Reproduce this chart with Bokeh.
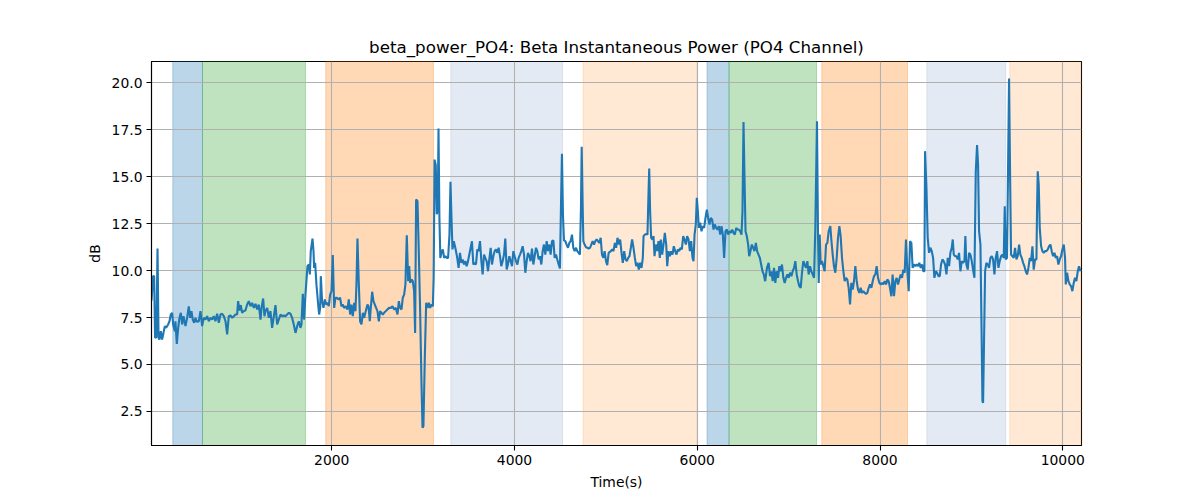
from bokeh.plotting import figure
from bokeh.models import Range1d, BoxAnnotation, FixedTicker, PrintfTickFormatter
from bokeh.embed import file_html
from bokeh.resources import INLINE

# ---- data ----
time_s = [
    27, 45, 56, 66, 80, 93, 104, 114, 129, 143, 158, 173, 187, 209, 224, 238, 253, 264, 282, 289,
    304, 319, 333, 348, 362, 377, 399, 417, 435, 450, 464, 479, 494, 508, 523, 545, 563, 581, 599, 618,
    636, 654, 672, 691, 709, 727, 745, 764, 782, 800, 818, 837, 855, 873, 891, 910, 928, 946, 964, 975,
    990, 1004, 1019, 1037, 1055, 1074, 1092, 1110, 1128, 1147, 1165, 1183, 1201, 1220, 1231, 1249, 1263, 1274, 1293, 1311,
    1329, 1347, 1366, 1384, 1402, 1420, 1439, 1457, 1475, 1493, 1511, 1530, 1548, 1566, 1584, 1603, 1621, 1639, 1657, 1668,
    1683, 1697, 1712,
    1734, 1749, 1760, 1770, 1789, 1800, 1807, 1818, 1832, 1851, 1862, 1873, 1880, 1894, 1909, 1924, 1938, 1953, 1967, 1982,
    1997, 2011, 2026, 2040, 2055, 2070, 2091, 2106, 2121, 2135, 2153, 2172, 2186, 2201, 2215, 2230, 2245, 2259, 2270, 2281,
    2296, 2310, 2325, 2340, 2354, 2372, 2391, 2402, 2416, 2427, 2442, 2456, 2471, 2485, 2500, 2515, 2529, 2544, 2558, 2573,
    2591, 2609, 2628, 2646, 2664, 2682, 2701, 2719, 2734, 2748, 2763, 2777, 2792, 2806, 2821, 2836, 2847, 2858, 2872, 2887,
    2901, 2912, 2923, 2938, 2952, 2967, 2982, 2993, 3003, 3018, 3033, 3047, 3062, 3076, 3091, 3106, 3115, 3125, 3138, 3149,
    3160, 3168, 3178, 3188, 3200, 3215, 3230, 3244, 3259, 3273, 3288, 3299, 3310, 3321, 3335,
    3352, 3370, 3388, 3403, 3418, 3432, 3447, 3461, 3476, 3491, 3505, 3520, 3534, 3549, 3564, 3578, 3593, 3607, 3622, 3637,
    3651, 3666, 3680, 3695, 3710, 3724, 3739, 3753, 3768, 3782, 3797, 3812, 3826, 3841, 3855, 3870, 3885, 3899, 3914, 3928,
    3943, 3958, 3972, 3987, 4001, 4016, 4031, 4045, 4060, 4074, 4089, 4104, 4118, 4133, 4147, 4162, 4176, 4191, 4206, 4220,
    4235, 4249, 4264, 4279, 4293, 4308, 4322, 4337, 4352, 4366, 4381, 4395, 4410, 4425, 4439, 4454, 4468, 4483, 4497, 4508,
    4519, 4530, 4541, 4556, 4570, 4585, 4600, 4614, 4629, 4643, 4658, 4673, 4687, 4702, 4716, 4727, 4735, 4746, 4753, 4767,
    4782, 4797, 4811, 4826, 4840, 4855, 4870, 4884, 4899, 4913, 4928, 4943, 4957, 4972, 4986, 5001, 5015, 5030,
    5054, 5069, 5083, 5098, 5112, 5127, 5142, 5156, 5171, 5185, 5200, 5215, 5229, 5244, 5258, 5273, 5287, 5302, 5317, 5331,
    5346, 5360, 5375, 5390, 5404, 5412, 5426, 5441, 5455, 5466, 5474, 5484, 5495, 5510, 5521, 5532, 5546, 5561, 5576, 5590,
    5601, 5616, 5630, 5645, 5660, 5671, 5685, 5700, 5714, 5729, 5743, 5758, 5773, 5787, 5802, 5816, 5831, 5846, 5860, 5875,
    5889, 5904, 5919, 5933, 5948, 5959, 5970, 5984, 5995, 6006, 6017, 6032, 6046, 6061, 6075, 6090, 6105, 6119, 6134, 6148,
    6163, 6178, 6192, 6207, 6221, 6236, 6251, 6265, 6280, 6294, 6309, 6324, 6338, 6353, 6367, 6382, 6396, 6411, 6426, 6440,
    6455, 6469, 6484, 6495, 6506, 6517, 6528, 6542, 6557, 6568, 6582, 6597, 6612, 6626, 6641, 6655, 6670, 6685, 6699, 6714,
    6728, 6743,
    6763, 6781, 6796, 6811, 6825, 6840, 6854, 6869, 6884, 6898, 6913, 6927, 6942, 6957, 6971, 6986, 7000, 7015, 7030, 7044,
    7059, 7073, 7088, 7103, 7117, 7132, 7146, 7161, 7175, 7190, 7205, 7219, 7234, 7248, 7263, 7278, 7292, 7310, 7321, 7329,
    7340, 7351, 7365, 7380, 7394, 7409, 7424, 7438, 7456, 7467, 7482, 7496, 7511, 7526, 7540, 7555, 7569, 7584, 7599, 7613,
    7628, 7642, 7657, 7672, 7686, 7701, 7715, 7730, 7745, 7759, 7774, 7788, 7803, 7818, 7832, 7847, 7861, 7876, 7890, 7905,
    7920, 7934, 7949, 7963, 7978, 7993, 8007, 8022, 8036, 8051, 8066, 8080, 8095, 8109, 8124, 8138, 8153, 8168, 8182, 8197,
    8211, 8226, 8241, 8255, 8270, 8284, 8299, 8314, 8328, 8343, 8357, 8372, 8387, 8401, 8416, 8430, 8445, 8460, 8474,
    8486, 8493, 8508, 8522, 8537, 8551, 8566, 8581, 8595, 8610, 8624, 8639, 8654, 8668, 8683, 8697, 8712, 8727, 8741, 8756,
    8770, 8785, 8796, 8807, 8821, 8836, 8851, 8865, 8880, 8894, 8909, 8924, 8934, 8945, 8960, 8975, 8989, 9004, 9018, 9033,
    9048, 9062, 9073, 9084, 9099, 9110, 9121, 9128, 9139, 9150, 9164, 9179, 9193, 9208, 9223, 9237, 9252, 9266, 9281, 9296,
    9310, 9325, 9339, 9354, 9365, 9376, 9390, 9401, 9412, 9423, 9434, 9449, 9463, 9478, 9493, 9507, 9522, 9536, 9551, 9566,
    9580, 9595, 9609, 9624, 9639, 9653, 9668, 9682, 9697, 9712, 9719, 9726, 9737, 9748, 9763, 9777, 9792, 9806, 9821, 9836,
    9850, 9865, 9879, 9894, 9909, 9923, 9938, 9952, 9967, 9981, 9996, 10011, 10025, 10033, 10047, 10062, 10076, 10091, 10105, 10120,
    10134, 10149, 10164, 10178, 10193,
]

power_db = [
    8.40, 9.70, 9.70, 6.42, 6.45, 11.17, 6.42, 6.33, 6.77, 6.33, 6.68, 7.04, 6.95, 7.13, 7.30, 7.66, 7.75, 7.13, 6.77, 7.30,
    6.10, 6.95, 7.48, 7.75, 7.13, 7.57, 7.04, 7.48, 8.09, 7.48, 7.84, 7.39, 7.22, 7.48, 7.27, 7.30, 7.84, 7.04, 7.48, 7.39,
    7.57, 7.30, 7.48, 7.39, 7.57, 7.30, 7.70, 7.22, 7.66, 7.70, 7.57, 7.30, 6.60, 7.57, 7.61, 7.48, 7.57, 7.66, 7.66, 8.37,
    7.87, 8.16, 7.75, 7.84, 7.87, 8.19, 8.37, 8.10, 8.28, 8.01, 8.23, 7.93, 8.19, 7.39, 8.01, 8.51, 7.57, 7.84, 8.01, 7.48,
    7.84, 6.95, 7.57, 8.16, 7.13, 7.39, 7.66, 7.57, 7.61, 7.57, 7.66, 7.75, 7.70, 7.48, 7.13, 6.68, 7.04, 7.30, 6.95, 7.13,
    8.76, 7.39, 8.72,
    10.23, 10.32, 9.79, 11.03, 11.70, 11.03, 10.14, 10.41, 9.26, 8.19, 7.66, 8.01, 9.70, 8.37, 8.01, 8.46, 8.19, 8.28, 8.10, 8.72,
    8.90, 10.82, 8.01, 8.55, 8.55, 8.46, 8.55, 8.10, 8.19, 8.01, 8.10, 7.93, 8.46, 7.66, 8.19, 7.57, 8.28, 7.84, 9.26, 11.70,
    9.26, 7.30, 7.13, 7.75, 7.48, 7.84, 8.19, 8.10, 7.30, 8.01, 8.87, 8.37, 8.19, 8.01, 7.84, 7.30, 7.84, 7.75, 7.66, 7.75,
    7.84, 7.93, 8.01, 8.01, 8.10, 7.93, 8.01, 7.66, 8.37, 8.01, 7.93, 8.55, 8.72, 9.26, 11.88, 9.43, 10.23, 9.34, 9.52, 9.43,
    8.90, 6.68, 13.78, 13.69, 11.03, 7.84, 3.94, 1.63, 1.72, 5.35, 8.28, 8.01, 8.28, 8.01, 8.19, 8.10, 9.61, 15.90, 15.60, 13.00,
    13.20, 17.55, 12.80, 10.67, 10.94, 11.12, 10.67, 10.76, 10.67, 10.67, 11.91, 14.72, 12.80, 11.12, 11.56,
    11.21, 10.76, 10.14, 10.94, 10.41, 10.59, 10.32, 10.50, 10.23, 10.50, 10.85, 11.21, 11.56, 10.32, 10.41, 10.32, 11.12, 11.03, 11.56, 10.50,
    9.79, 10.85, 10.67, 10.50, 9.96, 10.59, 11.21, 10.32, 10.76, 11.03, 11.12, 10.94, 11.21, 10.76, 10.23, 10.50, 10.85, 11.70, 10.05, 10.32,
    10.76, 10.50, 10.23, 11.03, 10.76, 10.50, 10.32, 10.67, 10.85, 11.03, 11.29, 10.85, 9.88, 10.50, 10.94, 10.76, 10.50, 11.17, 10.32, 10.76,
    11.21, 11.03, 10.59, 10.76, 10.32, 11.03, 11.38, 10.85, 11.56, 11.03, 11.38, 10.85, 11.56, 11.60, 10.67, 10.85, 10.59, 10.32, 10.11, 13.33,
    16.21, 12.98, 11.60, 11.56, 11.38, 11.21, 11.47, 11.56, 11.91, 11.21, 11.03, 11.21, 11.03, 10.94, 10.85, 13.33, 16.58, 13.33, 11.56, 11.38,
    11.24, 11.21, 11.17, 11.21, 11.38, 11.56, 11.38, 11.56, 11.65, 11.56, 11.47, 11.74, 10.85, 10.67, 11.03, 10.50, 10.28, 10.94,
    11.03, 11.12, 11.03, 11.47, 11.21, 11.74, 11.38, 11.65, 10.94, 10.41, 11.03, 10.59, 10.50, 10.67, 10.76, 11.21, 11.65, 11.21, 10.67, 10.23,
    10.41, 10.05, 10.41, 10.14, 10.67, 11.83, 11.91, 11.95, 11.91, 14.04, 15.43, 13.16, 11.74, 11.65, 11.83, 10.76, 11.38, 11.03, 11.56, 10.67,
    11.65, 10.85, 11.38, 12.00, 11.38, 10.23, 11.03, 10.76, 11.03, 10.85, 11.29, 11.03, 10.85, 11.12, 11.03, 11.21, 11.12, 11.83, 11.65, 11.38,
    11.83, 11.65, 11.03, 11.56, 10.67, 10.50, 11.91, 12.45, 13.87, 13.16, 12.27, 12.54, 12.09, 12.36, 12.27, 12.80, 13.24, 12.80, 12.45, 12.80,
    12.71, 12.18, 12.45, 12.27, 12.18, 12.36, 11.91, 12.36, 11.91, 10.67, 12.09, 12.18, 11.91, 12.09, 12.00, 12.18, 12.00, 11.91, 12.27, 12.18,
    12.18, 12.09, 11.91, 13.16, 17.90, 14.93, 12.09, 11.83, 11.38, 10.76, 11.03, 11.38, 11.21, 11.03, 11.47, 11.03, 10.85, 10.67, 10.32, 9.96,
    9.79, 9.43,
    10.14, 10.41, 9.70, 9.96, 9.43, 10.14, 9.34, 9.96, 9.61, 10.23, 9.96, 10.32, 9.61, 9.34, 9.61, 9.79, 9.61, 9.88, 9.70, 9.96,
    10.14, 10.50, 9.79, 9.43, 9.17, 9.08, 9.88, 10.50, 10.32, 10.14, 10.50, 9.79, 10.23, 9.96, 9.79, 9.61, 12.27, 17.94, 12.09, 9.34,
    11.91, 10.32, 10.50, 10.23, 9.96, 11.38, 11.47, 12.09, 12.36, 11.65, 10.85, 10.23, 9.88, 10.67, 11.74, 12.36, 11.83, 10.67, 9.96, 9.43,
    9.61, 9.52, 9.08, 8.19, 9.34, 8.99, 9.43, 10.23, 9.43, 8.99, 8.81, 9.08, 8.81, 8.90, 8.81, 8.76, 8.81, 9.08, 9.26, 9.08,
    9.43, 9.70, 9.79, 10.23, 9.61, 9.34, 9.26, 9.34, 9.26, 9.43, 9.26, 9.52, 9.43, 9.08, 8.63, 9.79, 8.63, 9.43, 9.61, 9.26,
    9.52, 9.79, 9.61, 10.05, 9.88, 11.65, 9.96, 8.90, 11.56, 11.47, 10.14, 10.32, 10.23, 10.32, 10.23, 10.41, 10.14, 10.32, 9.96,
    9.96, 16.35, 14.40, 11.74, 10.94, 11.21, 11.03, 10.67, 9.61, 9.96, 9.88, 9.70, 9.70, 10.32, 10.59, 10.50, 10.32, 9.79, 10.67, 10.23,
    10.94, 11.21, 11.65, 10.85, 10.76, 10.76, 10.59, 10.94, 9.96, 10.50, 10.41, 10.50, 11.83, 10.32, 10.05, 10.94, 10.85, 10.50, 10.05, 9.61,
    15.28, 16.67, 15.64, 12.09, 11.38, 7.30, 3.05, 2.96, 6.42, 9.96, 10.41, 10.32, 10.14, 10.67, 10.76, 10.59, 9.79, 10.67, 11.03, 10.14,
    10.50, 10.76, 10.85, 10.67, 13.42, 10.59, 10.67, 15.28, 20.21, 15.28, 10.85, 10.76, 10.67, 11.21, 10.59, 10.76, 11.38, 10.85, 10.67, 10.41,
    10.23, 9.96, 9.79, 10.14, 10.67, 10.50, 11.29, 10.05, 10.59, 10.59, 13.42, 15.28, 14.57, 12.27, 11.29, 11.03, 10.94, 11.03, 11.03, 11.12,
    11.29, 11.38, 11.03, 10.76, 10.94, 10.67, 10.76, 10.32, 10.59, 10.76, 11.12, 11.38, 10.67, 9.26, 9.88, 9.43, 9.26, 9.17, 8.90, 9.34,
    9.61, 9.43, 9.96, 10.23, 9.96,
]

# shaded intervals (seconds) and their kind
region_start = [260, 585, 1934, 3303, 4750, 6107, 6348, 7363, 8512, 9420]
region_end = [585, 1712, 3113, 4525, 5998, 6348, 7305, 8301, 9376, 10205]
region_kind = ["blue", "green", "orange", "light_blue", "light_orange",
               "blue", "green", "orange", "light_blue", "light_orange"]

x_ticks = [2000, 4000, 6000, 8000, 10000]
y_ticks = [2.5, 5.0, 7.5, 10.0, 12.5, 15.0, 17.5, 20.0]
x_limits = (27, 10205)
y_limits = (0.69, 21.12)

title_text = "beta_power_PO4: Beta Instantaneous Power (PO4 Channel)"
x_label = "Time(s)"
y_label = "dB"

# ---- styles ----
kind_style = {
    "blue": ("#1f77b4", 0.30),
    "green": ("#2ca02c", 0.30),
    "orange": ("#ff7f0e", 0.30),
    "light_blue": ("#4c72b0", 0.15),
    "light_orange": ("#ff7f0e", 0.18),
}
FONT = "DejaVu Sans"

p = figure(
    frame_width=930, frame_height=384,
    x_range=Range1d(*x_limits), y_range=Range1d(*y_limits),
    output_backend="svg", toolbar_location=None,
    min_border_left=151, min_border_right=95,
    min_border_top=61, min_border_bottom=40,
    background_fill_color="white", border_fill_color="white",
)

for s, e, k in zip(region_start, region_end, region_kind):
    c, a = kind_style[k]
    p.add_layout(BoxAnnotation(left=s, right=e, fill_color=c, fill_alpha=a,
                               line_color=c, line_alpha=a, line_width=1,
                               level="image"))

p.line(time_s, power_db, line_color="#1f77b4", line_width=2.1)

# title
p.title.text = title_text
p.title.align = "center"
p.title.text_font = FONT
p.title.text_font_size = "16.7px"
p.title.text_font_style = "normal"
p.title.text_color = "black"
p.title.standoff = 10

# axes
for ax in (p.xaxis[0], p.yaxis[0]):
    ax.axis_line_width = 1.1
    ax.axis_line_color = "black"
    ax.major_tick_line_color = "black"
    ax.major_tick_line_width = 1.1
    ax.major_tick_out = 5
    ax.major_tick_in = 0
    ax.minor_tick_line_color = None
    ax.major_label_text_font = FONT
    ax.major_label_text_font_size = "13.9px"
    ax.major_label_text_color = "black"
    ax.axis_label_text_font = FONT
    ax.axis_label_text_font_size = "13.9px"
    ax.axis_label_text_font_style = "normal"
    ax.axis_label_text_color = "black"
    ax.major_label_standoff = 4
    ax.axis_label_standoff = 6

p.xaxis.ticker = FixedTicker(ticks=x_ticks)
p.yaxis.ticker = FixedTicker(ticks=y_ticks)
p.yaxis.formatter = PrintfTickFormatter(format="%.1f")
p.xaxis.axis_label = x_label
p.yaxis.axis_label = y_label

p.grid.grid_line_color = "#b0b0b0"
p.grid.grid_line_width = 1.1
p.xgrid.ticker = FixedTicker(ticks=x_ticks)
p.ygrid.ticker = FixedTicker(ticks=y_ticks)

p.outline_line_color = "black"
p.outline_line_width = 1.1
p.outline_line_alpha = 1.0

open("out.html", "w").write(file_html(p, INLINE))
